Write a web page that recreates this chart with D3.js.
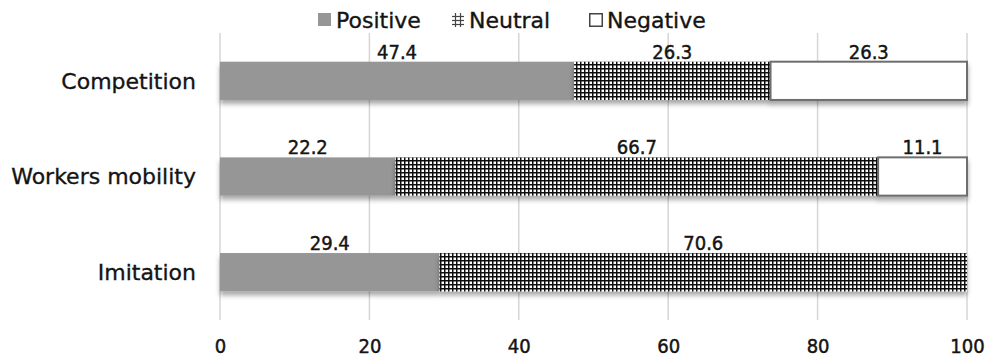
<!DOCTYPE html>
<html><head><meta charset="utf-8">
<script src="https://cdn.jsdelivr.net/npm/d3@7"></script>
<style>body{margin:0;background:#fff}svg{display:block}</style>
</head><body>
<svg id="c" width="989" height="359"></svg>
<script>
const categories = ["Competition", "Workers mobility", "Imitation"];
const seriesNames = ["Positive", "Neutral", "Negative"];
// bar lengths as drawn in the picture
const positive = [47.4, 23.5, 29.4];
const neutral = [26.3, 64.6, 70.6];
const negative = [26.3, 11.9, 0];
// data-label texts as printed in the picture
const positiveLabels = ["47.4", "22.2", "29.4"];
const neutralLabels = ["26.3", "66.7", "70.6"];
const negativeLabels = ["26.3", "11.1", ""];
const xTicks = [0, 20, 40, 60, 80, 100];

const svg = d3.select("#c");
const font = "'DejaVu Sans', Verdana, sans-serif";
const cfont = "'DejaVu Sans Condensed', 'DejaVu Sans', sans-serif";
const ink = "#141414";
const x = d3.scaleLinear().domain([0, 100]).range([220, 967]);
const y = d3.scaleBand().domain(categories).range([33, 320]).paddingInner(0.6).paddingOuter(0.3);

const defs = svg.append("defs");
const pat = defs.append("pattern").attr("id", "grid").attr("patternUnits", "userSpaceOnUse")
  .attr("width", 4).attr("height", 4);
pat.append("rect").attr("width", 4).attr("height", 4).attr("fill", "#fff");
pat.append("rect").attr("x", 0).attr("y", 0).attr("width", 1.5).attr("height", 4).attr("fill", "#111");
pat.append("rect").attr("x", 0).attr("y", 0).attr("width", 4).attr("height", 1.5).attr("fill", "#111");
const f = defs.append("filter").attr("id", "sh").attr("x", "-5%").attr("y", "-20%").attr("width", "110%").attr("height", "170%");
f.append("feDropShadow").attr("dx", 0).attr("dy", 4).attr("stdDeviation", 2.5).attr("flood-color", "#000").attr("flood-opacity", 0.35);

// gridlines
svg.append("g").selectAll("line").data(xTicks).join("line")
  .attr("x1", d => x(d)).attr("x2", d => x(d)).attr("y1", 33).attr("y2", 320)
  .attr("stroke", "#d6d6d6").attr("stroke-width", 1.5);

// axis
const ax = svg.append("g").attr("transform", "translate(0,353)")
  .call(d3.axisBottom(x).tickValues(xTicks).tickSize(0).tickPadding(0));
ax.select(".domain").remove();
ax.selectAll("text").attr("font-family", cfont).attr("font-size", 20).attr("fill", ink)
  .attr("stroke", ink).attr("stroke-width", 0.45).attr("dy", 0);

// category labels
svg.append("g").selectAll("text").data(categories).join("text")
  .attr("x", 196).attr("y", d => y(d) + y.bandwidth() / 2).attr("dy", "0.36em")
  .attr("text-anchor", "end").attr("font-family", font).attr("font-size", 22).attr("fill", ink)
  .attr("stroke", ink).attr("stroke-width", 0.35)
  .text(d => d);

const stacks = categories.map((c, i) => {
  const vals = [positive[i], neutral[i], negative[i]];
  const labs = [positiveLabels[i], neutralLabels[i], negativeLabels[i]];
  let s = 0;
  return vals.map((v, k) => { const o = {cat: c, k, x0: s, x1: s + v, lab: labs[k]}; s += v; return o; });
}).flat();

const fills = ["#969696", "url(#grid)", "#ffffff"];
const gb = svg.append("g");
gb.selectAll("rect").data(stacks.filter(d => d.x1 > d.x0)).join("rect")
  .attr("x", d => x(d.x0)).attr("width", d => x(d.x1) - x(d.x0))
  .attr("y", d => y(d.cat)).attr("height", y.bandwidth())
  .attr("fill", d => fills[d.k])
  .attr("stroke", d => d.k === 2 ? "#6e6e6e" : "none").attr("stroke-width", 2)
  .attr("filter", "url(#sh)");

svg.append("g").selectAll("text").data(stacks.filter(d => d.lab)).join("text")
  .attr("x", d => (x(d.x0) + x(d.x1)) / 2).attr("y", d => y(d.cat) - 3)
  .attr("text-anchor", "middle").attr("font-family", cfont).attr("font-size", 20).attr("fill", ink)
  .attr("stroke", ink).attr("stroke-width", 0.45)
  .text(d => d.lab);

// legend
const leg = svg.append("g");
const legItems = [{sx: 318, tx: 336}, {sx: 452, tx: 469}, {sx: 589, tx: 607}];
legItems.forEach((it, i) => {
  if (i === 0) leg.append("rect").attr("x", it.sx).attr("y", 13).attr("width", 13).attr("height", 13).attr("fill", "#969696");
  if (i === 1) {
    const h = leg.append("g").attr("stroke", "#444").attr("stroke-width", 1.2);
    [455.5, 460.5].forEach(vx => h.append("line").attr("x1", vx).attr("x2", vx).attr("y1", 13).attr("y2", 27));
    [16.5, 20.5, 24.5].forEach(hy => h.append("line").attr("x1", 452).attr("x2", 464).attr("y1", hy).attr("y2", hy));
  }
  if (i === 2) leg.append("rect").attr("x", it.sx + 0.75).attr("y", 13.75).attr("width", 12.5).attr("height", 12.5).attr("fill", "#fff").attr("stroke", "#444").attr("stroke-width", 1.5);
  leg.append("text").attr("x", it.tx).attr("y", 28).attr("font-family", font).attr("font-size", 22).attr("fill", ink)
    .attr("stroke", ink).attr("stroke-width", 0.35).text(seriesNames[i]);
});
</script>
</body></html>
